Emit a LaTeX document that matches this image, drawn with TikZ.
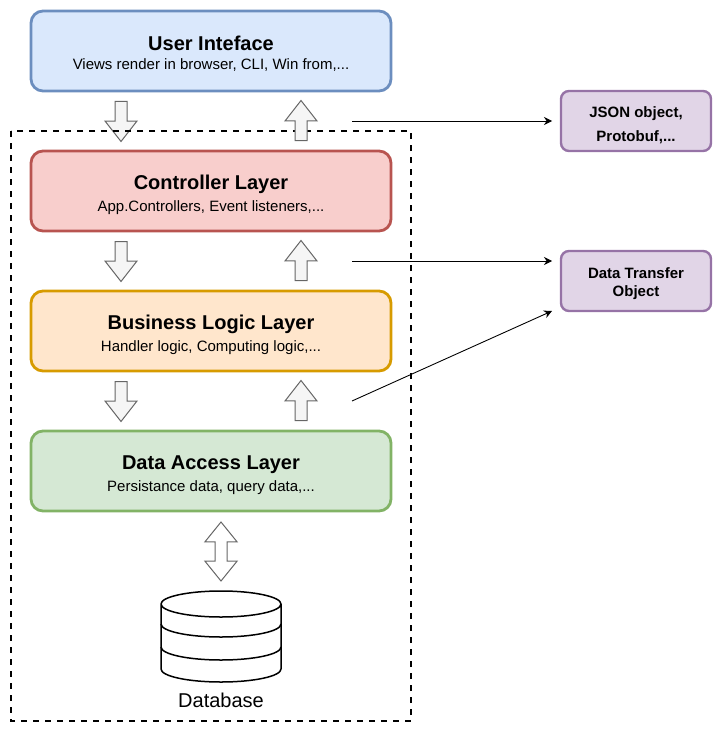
\documentclass[tikz,border=0pt]{standalone}
\usepackage{fontspec}
\setmainfont{Liberation Sans}
\usepackage{xcolor}
\definecolor{uifill}{HTML}{DAE8FC}
\definecolor{uiframe}{HTML}{6C8EBF}
\definecolor{ctrlfill}{HTML}{F8CECC}
\definecolor{ctrlframe}{HTML}{B85450}
\definecolor{bizfill}{HTML}{FFE6CC}
\definecolor{bizframe}{HTML}{D79B00}
\definecolor{datafill}{HTML}{D5E8D4}
\definecolor{dataframe}{HTML}{82B366}
\definecolor{dtofill}{HTML}{E1D5E7}
\definecolor{dtoframe}{HTML}{9673A6}
\definecolor{blockfill}{HTML}{F5F5F5}
\definecolor{blockframe}{HTML}{666666}
\usepackage{tikz}
\usetikzlibrary{arrows.meta, positioning, shapes.arrows}
\newcommand{\layertext}[2]{\rule[-2pt]{0pt}{26pt}{\fontsize{20}{24}\selectfont\bfseries #1}\\{\rule[-5pt]{0pt}{21pt}\fontsize{15}{15}\selectfont #2}}

\begin{document}
\begin{tikzpicture}[
  x=1pt, y=-1pt,
  layer/.style={draw, line width=2.8pt, rounded corners=12pt, outer sep=0pt,
    minimum width=360pt, minimum height=80pt, align=center, inner sep=0pt},
  dtobox/.style={draw=dtoframe, fill=dtofill, line width=2.4pt, rounded corners=8pt,
    outer sep=0pt, minimum width=150pt, minimum height=60pt, align=center,
    inner sep=0pt, font=\fontsize{15}{18}\selectfont\bfseries},
  blockdown/.style={single arrow, draw=blockframe, fill=blockfill, line width=1pt,
    minimum height=40pt, inner sep=5.5pt, single arrow head extend=10pt,
    single arrow tip angle=76, shape border rotate=270, anchor=tail},
  blockup/.style={blockdown, shape border rotate=90},
  blockboth/.style={double arrow, draw=blockframe, fill=white, line width=1pt,
    minimum height=59pt, inner sep=5.5pt, double arrow head extend=10pt,
    double arrow tip angle=78, shape border rotate=90},
  link/.style={-{Stealth[length=8pt,width=8pt]}, line width=0.9pt},
]
\useasboundingbox (0,0) rectangle (723,733);

\node[layer, draw=uiframe, fill=uifill] (ui) at (211,51)
  {\layertext{User Inteface}{Views render in browser, CLI, Win from,...}};
\node[layer, draw=ctrlframe, fill=ctrlfill, below=60pt of ui] (ctrl)
  {\layertext{Controller Layer}{App.Controllers, Event listeners,...}};
\node[layer, draw=bizframe, fill=bizfill, below=60pt of ctrl] (biz)
  {\layertext{Business Logic Layer}{Handler logic, Computing logic,...}};
\node[layer, draw=dataframe, fill=datafill, below=60pt of biz] (data)
  {\layertext{Data Access Layer}{Persistance data, query data,...}};

\foreach \n/\y in {ui/101, ctrl/241, biz/381} {
  \node[blockdown] (down\n) at (121,\y) {};
}

% boundary of the backend
\draw[line width=1.6pt, dash pattern=on 6pt off 6pt] (11,131) rectangle (411,721);

\foreach \n/\y in {ui/141, ctrl/281, biz/421} {
  \node[blockup] (up\n) at (301,\y) {};
}
\node[blockboth] (dbarrow) at (221,551.5) {};

% database
\draw[line width=1.5pt, fill=white] (161,604) arc[start angle=180, end angle=0, x radius=60, y radius=13]
  arc[start angle=0, end angle=-180, x radius=60, y radius=13] -- (161,669)
  arc[start angle=180, end angle=0, x radius=60, y radius=13] -- (281,604);
\draw[line width=1.5pt] (161,624) arc[start angle=180, end angle=0, x radius=60, y radius=13];
\draw[line width=1.5pt] (161,647) arc[start angle=180, end angle=0, x radius=60, y radius=13];
\node[font=\fontsize{20}{24}\selectfont] (dblabel) at (221,700) {Database};

\node[dtobox] (json) at (636,121) {\rule{0pt}{20pt}JSON object,\\[6pt]Protobuf,...};
\node[dtobox] (dto) at (636,281) {\rule{0pt}{16pt}Data Transfer\\Object};

\coordinate (uiout) at (352,121);
\coordinate (jsonin) at (552,121);
\coordinate (ctrlout) at (352,261);
\coordinate (dtoin) at (552,261);
\coordinate (bizout) at (352,401);
\coordinate (dtolow) at (552,311);
\draw[link] (uiout) -- (jsonin);
\draw[link] (ctrlout) -- (dtoin);
\draw[link] (bizout) -- (dtolow);
\end{tikzpicture}
\end{document}
